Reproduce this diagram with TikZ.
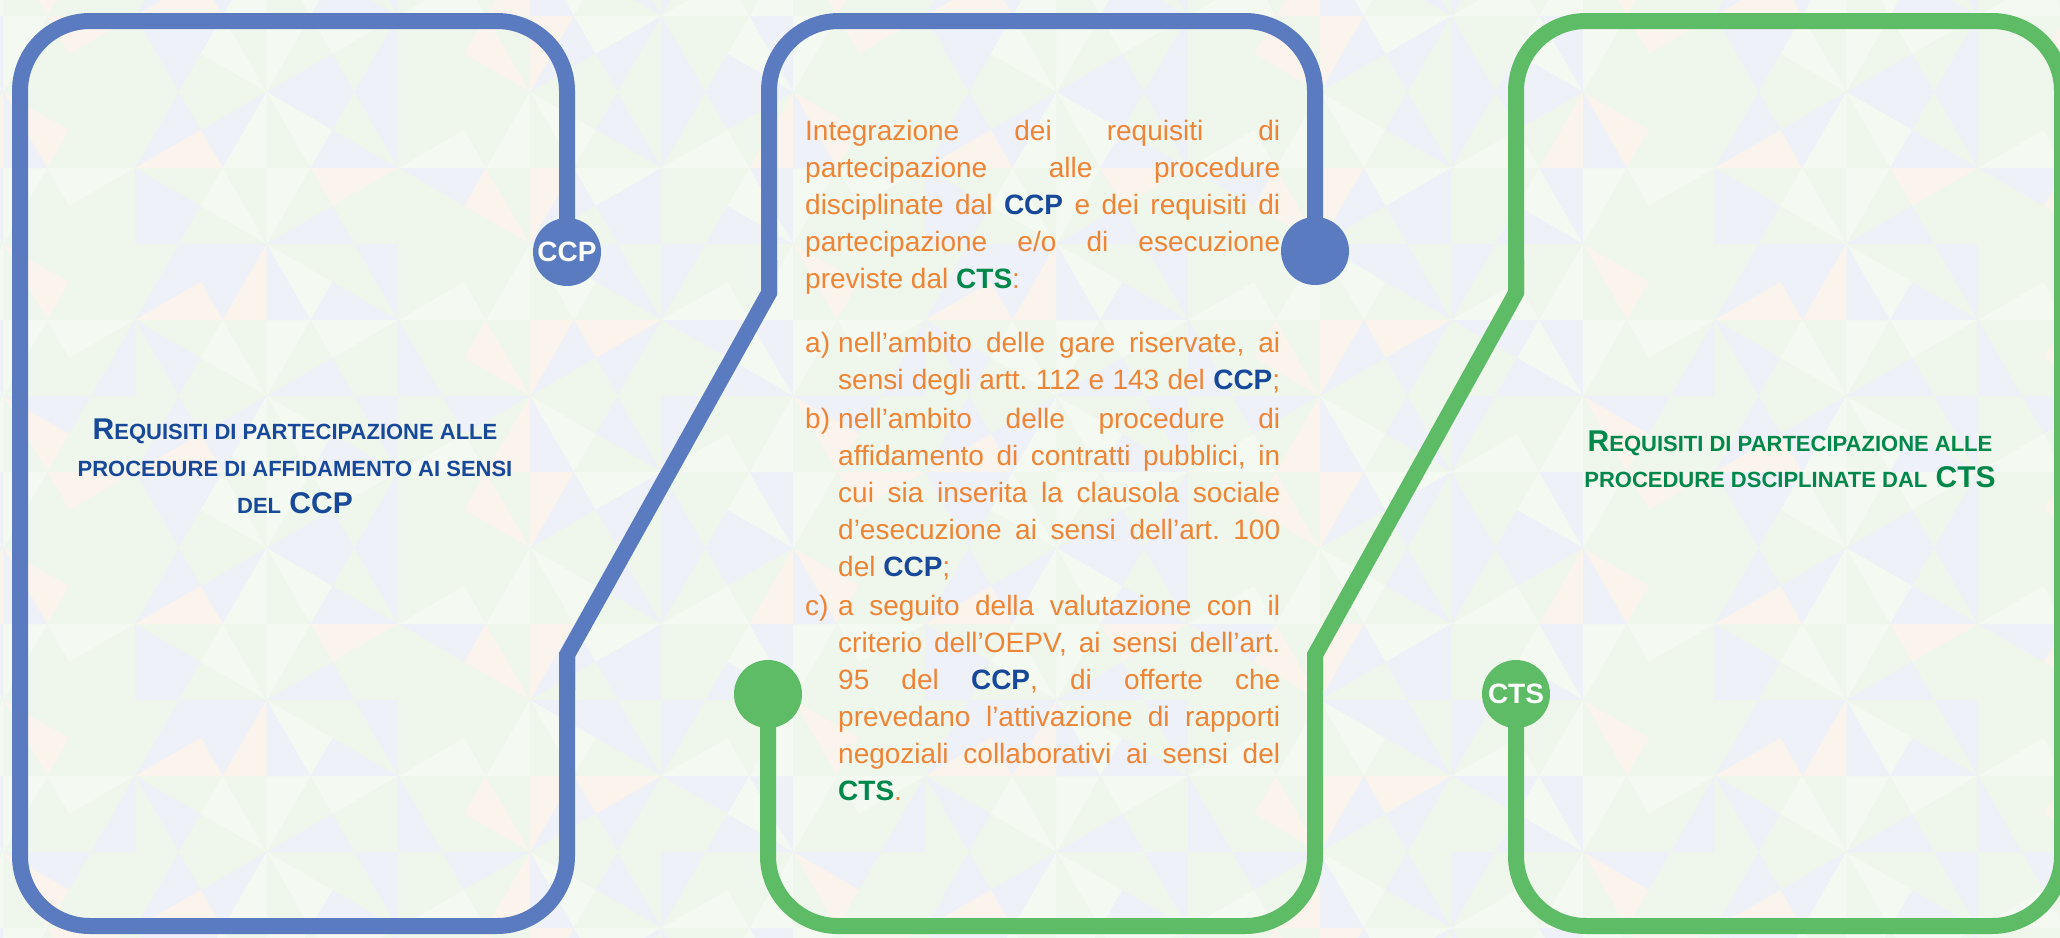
\documentclass[tikz,border=0pt]{standalone}
\usepackage{fontspec}
\setmainfont{Liberation Sans}
\frenchspacing
\definecolor{cblue}{HTML}{5A7BBF}
\definecolor{cgreen}{HTML}{5EBB66}
\definecolor{cdblue}{HTML}{17489A}
\definecolor{cdgreen}{HTML}{00884A}
\definecolor{corange}{HTML}{EE8436}
\definecolor{bgW}{HTML}{F4F9F2}
\definecolor{bgG}{HTML}{EFF6EC}
\definecolor{bgP}{HTML}{FBF4EC}
\definecolor{bgL}{HTML}{EFF1F9}
\pgfdeclarelayer{bg}
\pgfsetlayers{bg,main}
\newcommand\ccp{{\bfseries\color{cdblue}CCP}}
\newcommand\cts{{\bfseries\color{cdgreen}CTS}}
\newcommand\jl[1]{\makebox[\linewidth][s]{#1}}
\newcommand\il[2]{\makebox[33pt][l]{#1}\makebox[\dimexpr\linewidth-33pt\relax][s]{#2}}
\newcommand\ill[2]{\makebox[33pt][l]{#1}#2}
\newcommand\SC[1]{{\fontsize{22}{37}\selectfont #1}}
\newcommand\pickcol[1]{\pgfmathtruncatemacro\cc{mod(\i*7+\k*11+#1*5+\i*\k*3+#1*#1*\k+1000,6)}%
  \ifcase\cc\def\col{bgW}\or\def\col{bgG}\or\def\col{bgP}\or\def\col{bgL}\or\def\col{bgW}\or\def\col{bgG}\fi}
\begin{document}
\begin{tikzpicture}[x=1pt,y=-1pt,
  bline/.style={draw=cblue,line width=16pt},
  gline/.style={draw=cgreen,line width=16pt},
  dot/.style={circle,minimum size=68pt,inner sep=0pt,text=white,font=\fontsize{28}{28}\selectfont\bfseries},
  roundpath/.style={rounded corners=70pt},
  sharppath/.style={line join=miter}]
\useasboundingbox (0,0) rectangle (2060,937);
% nodes
\node[dot,fill=cblue] (ccp) at (567,252) {CCP};
\node[dot,fill=cblue] (blu) at (1315,251) {};
\node[dot,fill=cgreen] (grn) at (768,694) {};
\node[dot,fill=cgreen] (cts) at (1516,694) {CTS};
\begin{pgfonlayer}{bg}
\fill[bgW] (0,0) rectangle (2060,937);
\begin{scope}
\clip (0,0) rectangle (2060,937);
\foreach \i in {-2,...,14}{
 \foreach \k in {-3,...,12}{
  \pgfmathsetmacro\xL{135+131.636*\i}
  \pgfmathsetmacro\xR{\xL+131.636}
  \pgfmathtruncatemacro\pp{mod(\i+\k+100,2)}
  \ifnum\pp=0 \let\xA\xR \let\xB\xL \else \let\xA\xL \let\xB\xR \fi
  \pgfmathsetmacro\yA{92+76*\k}
  \pgfmathsetmacro\yB{\yA+76}
  \pgfmathsetmacro\yC{\yA+152}
  \pgfmathsetmacro\xM{(\xA+\xB)/2}
  \pgfmathsetmacro\xG{(2*\xA+\xB)/3}
  \pgfmathsetmacro\yMa{\yA+38}
  \pgfmathsetmacro\yMb{\yB+38}
  \pickcol{1}\fill[\col] (\xA,\yA) -- (\xM,\yMa) -- (\xG,\yB) -- cycle;
  \pickcol{2}\fill[\col] (\xM,\yMa) -- (\xB,\yB) -- (\xG,\yB) -- cycle;
  \pickcol{3}\fill[\col] (\xB,\yB) -- (\xM,\yMb) -- (\xG,\yB) -- cycle;
  \pickcol{4}\fill[\col] (\xM,\yMb) -- (\xA,\yC) -- (\xG,\yB) -- cycle;
  \pickcol{5}\fill[\col] (\xA,\yC) -- (\xA,\yB) -- (\xG,\yB) -- cycle;
  \pickcol{6}\fill[\col] (\xA,\yB) -- (\xA,\yA) -- (\xG,\yB) -- cycle;
 }
}
\end{scope}
% blue line
\draw[bline,roundpath] (ccp.center) -- (567,21) -- (20,21) -- (20,926) -- (567,926) -- (567,655);
\draw[bline,sharppath] (567,690) -- (567,655) -- (769,293) -- (769,260);
\draw[bline,roundpath] (769,293) -- (769,21) -- (1315,21) -- (blu.center);
% green line
\draw[gline,roundpath] (grn.center) -- (768,926) -- (1315,926) -- (1315,655);
\draw[gline,sharppath] (1315,690) -- (1315,655) -- (1516,293) -- (1516,260);
\draw[gline,roundpath] (1516,293) -- (1516,21) -- (2062,21) -- (2062,926) -- (1516,926) -- (cts.center);
\end{pgfonlayer}
% titles
\node[anchor=base,inner sep=0pt,text=cdblue] (lt) at (295,439) {\parbox[t]{520pt}{\centering\fontsize{30}{37}\selectfont\bfseries
R\SC{EQUISITI DI PARTECIPAZIONE ALLE}\\
\SC{PROCEDURE DI AFFIDAMENTO AI SENSI}\\
\SC{DEL} CCP}};
\node[anchor=base,inner sep=0pt,text=cdgreen] (rt) at (1790,451) {\parbox[t]{520pt}{\centering\fontsize{30}{36}\selectfont\bfseries
R\SC{EQUISITI DI PARTECIPAZIONE ALLE}\\
\SC{PROCEDURE DSCIPLINATE DAL} CTS}};
% body
\node[anchor=base west,inner sep=0pt,text=corange] (body) at (805,140) {\parbox[t]{475pt}{\fontsize{28}{37}\selectfont
\jl{Integrazione dei requisiti di}\\
\jl{partecipazione alle procedure}\\
\jl{disciplinate dal \ccp{} e dei requisiti di}\\
\jl{partecipazione e/o di esecuzione}\\
previste dal \cts:\\[27.5pt]
\il{a)}{nell’ambito delle gare riservate, ai}\\
\il{}{sensi degli artt. 112 e 143 del \ccp;}\\[2pt]
\il{b)}{nell’ambito delle procedure di}\\
\il{}{affidamento di contratti pubblici, in}\\
\il{}{cui sia inserita la clausola sociale}\\
\il{}{d’esecuzione ai sensi dell’art. 100}\\
\ill{}{del \ccp;}\\[2pt]
\il{c)}{a seguito della valutazione con il}\\
\il{}{criterio dell’OEPV, ai sensi dell’art.}\\
\il{}{95 del \ccp, di offerte che}\\
\il{}{prevedano l’attivazione di rapporti}\\
\il{}{negoziali collaborativi ai sensi del}\\
\ill{}{\cts.}}};
\end{tikzpicture}
\end{document}
